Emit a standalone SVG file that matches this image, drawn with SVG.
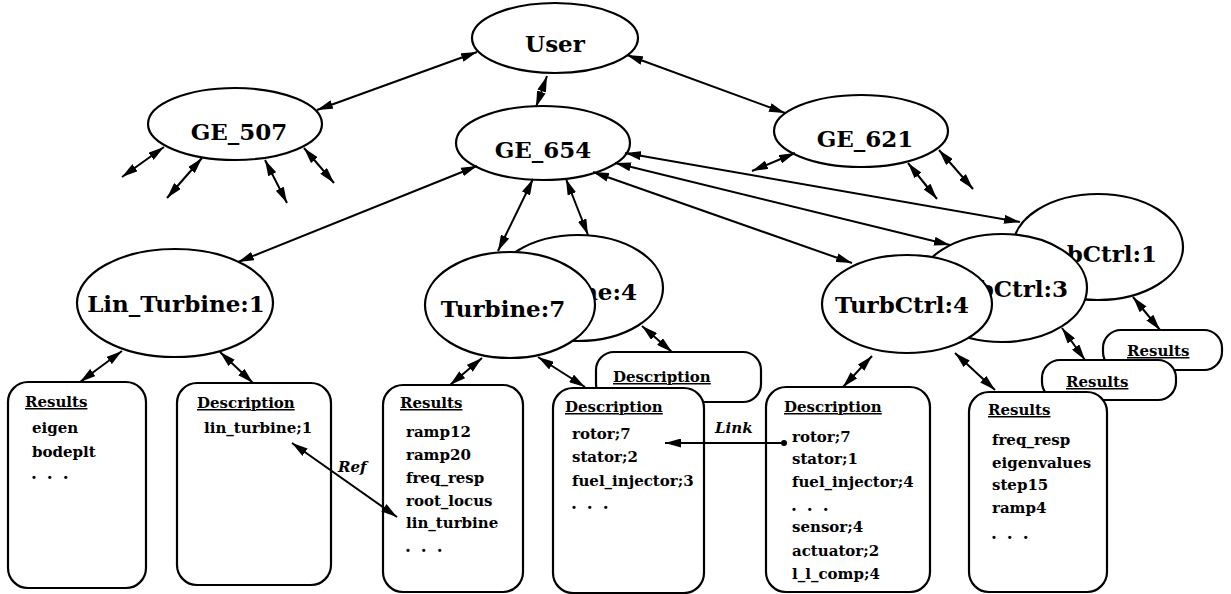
<svg xmlns="http://www.w3.org/2000/svg" width="1231" height="594" viewBox="0 0 1231 594">
<defs>
<marker id="ah" viewBox="0 0 16 9" refX="16" refY="4.5" markerWidth="16" markerHeight="9" markerUnits="userSpaceOnUse" orient="auto-start-reverse"><path d="M0,0 L16,4.5 L0,9 z" fill="#000"/></marker>
<style>
.n ellipse{fill:#fff;stroke:#000;stroke-width:2.2}
.b rect{fill:#fff;stroke:#000;stroke-width:2.2}
.big{font-family:"DejaVu Serif","Liberation Serif",serif;font-weight:bold;font-size:23px;fill:#000}
.h{font-family:"DejaVu Serif","Liberation Serif",serif;font-weight:bold;font-size:15px;text-decoration:underline;fill:#000}
.t{font-family:"DejaVu Serif","Liberation Serif",serif;font-weight:bold;font-size:15px;fill:#000}
.d{font-family:"DejaVu Serif","Liberation Serif",serif;font-weight:bold;font-size:17px;letter-spacing:2px;fill:#000}
.it{font-family:"DejaVu Serif","Liberation Serif",serif;font-weight:bold;font-style:italic;font-size:15px;fill:#000}
.c line{stroke:#000;stroke-width:2;marker-start:url(#ah);marker-end:url(#ah)}
</style>
</defs>
<rect width="1231" height="594" fill="#fff"/>

<g id="user" class="n"><ellipse cx="555" cy="38" rx="83" ry="35"/><text class="big" x="555" y="52" text-anchor="middle">User</text></g>
<g id="ge507" class="n"><ellipse cx="235" cy="124" rx="87" ry="36"/><text class="big" x="239" y="140" text-anchor="middle">GE_507</text></g>
<g id="ge654" class="n"><ellipse cx="543" cy="143" rx="87" ry="37"/><text class="big" x="543" y="158" text-anchor="middle">GE_654</text></g>
<g id="ge621" class="n"><ellipse cx="861" cy="131" rx="87" ry="36"/><text class="big" x="865" y="147" text-anchor="middle">GE_621</text></g>

<g id="linturbine1" class="n"><ellipse cx="175" cy="303" rx="98" ry="54"/><text class="big" x="176" y="312" text-anchor="middle">Lin_Turbine:1</text></g>
<g id="lin-results" class="b"><rect x="8" y="382" width="138" height="206" rx="20"/><text class="h" x="25" y="407">Results</text><text class="t" x="32" y="433">eigen</text><text class="t" x="32" y="457">bodeplt</text><text class="d" x="31" y="479">. . .</text></g>
<g id="lin-desc" class="b"><rect x="177" y="383" width="154" height="202" rx="20"/><text class="h" x="197" y="408">Description</text><text class="t" x="204" y="433">lin_turbine;1</text></g>

<g id="turbine4" class="n"><ellipse cx="578" cy="288" rx="85" ry="53"/><text class="big" x="637" y="300" text-anchor="end">ne:4</text></g>
<g id="turbine4-desc" class="b"><rect x="596" y="352" width="165" height="50" rx="18"/><text class="h" x="613" y="382">Description</text></g>
<g id="turbine7" class="n"><ellipse cx="510" cy="305" rx="85" ry="53"/><text class="big" x="503" y="317" text-anchor="middle">Turbine:7</text></g>
<g id="turbine7-results" class="b"><rect x="383" y="385" width="140" height="207" rx="20"/><text class="h" x="400" y="408">Results</text><text class="t" x="406" y="437">ramp12</text><text class="t" x="406" y="460">ramp20</text><text class="t" x="406" y="483">freq_resp</text><text class="t" x="406" y="506">root_locus</text><text class="t" x="406" y="528">lin_turbine</text><text class="d" x="405" y="552">. . .</text></g>
<g id="turbine7-desc" class="b"><rect x="553" y="388" width="151" height="205" rx="20"/><text class="h" x="565" y="412">Description</text><text class="t" x="572" y="439">rotor;7</text><text class="t" x="572" y="462">stator;2</text><text class="t" x="572" y="486">fuel_injector;3</text><text class="d" x="571" y="509">. . .</text></g>

<g id="turbctrl1" class="n"><ellipse cx="1098" cy="247" rx="85" ry="53"/><text class="big" x="1157" y="262" text-anchor="end">bCtrl:1</text></g>
<g id="turbctrl3" class="n"><ellipse cx="1002" cy="288" rx="85" ry="54"/><text class="big" x="1068" y="297" text-anchor="end">bCtrl:3</text></g>
<g id="turbctrl4" class="n"><ellipse cx="907" cy="304" rx="85" ry="49"/><text class="big" x="902" y="313" text-anchor="middle">TurbCtrl:4</text></g>
<g id="turbctrl1-results" class="b"><rect x="1103" y="330" width="119" height="40" rx="18"/><text class="h" x="1127" y="356">Results</text></g>
<g id="turbctrl3-results" class="b"><rect x="1042" y="360" width="134" height="40" rx="18"/><text class="h" x="1066" y="387">Results</text></g>
<g id="turbctrl4-desc" class="b"><rect x="766" y="387" width="164" height="205" rx="20"/><text class="h" x="784" y="412">Description</text><text class="t" x="792" y="442">rotor;7</text><text class="t" x="792" y="464">stator;1</text><text class="t" x="792" y="487">fuel_injector;4</text><text class="d" x="791" y="511">. . .</text><text class="t" x="792" y="532">sensor;4</text><text class="t" x="792" y="556">actuator;2</text><text class="t" x="792" y="579">l_l_comp;4</text></g>
<g id="turbctrl4-results" class="b"><rect x="969" y="392" width="138" height="200" rx="20"/><text class="h" x="988" y="415">Results</text><text class="t" x="992" y="445">freq_resp</text><text class="t" x="992" y="468">eigenvalues</text><text class="t" x="992" y="490">step15</text><text class="t" x="992" y="513">ramp4</text><text class="d" x="991" y="539">. . .</text></g>

<g id="connectors" class="c">
<line x1="317" y1="110" x2="477" y2="52"/>
<line x1="547" y1="76" x2="536" y2="107"/>
<line x1="627" y1="55" x2="785" y2="113"/>
<line x1="477" y1="166" x2="238" y2="262"/>
<line x1="533" y1="179" x2="498" y2="251"/>
<line x1="566" y1="179" x2="588" y2="235"/>
<line x1="593" y1="172" x2="852" y2="263"/>
<line x1="615" y1="163" x2="950" y2="245"/>
<line x1="625" y1="153" x2="1020" y2="222"/>
<line x1="164" y1="147" x2="122" y2="177"/>
<line x1="202" y1="158" x2="167" y2="198"/>
<line x1="265" y1="160" x2="287" y2="203"/>
<line x1="304" y1="148" x2="334" y2="183"/>
<line x1="795" y1="153" x2="752" y2="171"/>
<line x1="908" y1="163" x2="937" y2="199"/>
<line x1="939" y1="150" x2="973" y2="189"/>
<line x1="122" y1="351" x2="80" y2="382"/>
<line x1="220" y1="352" x2="253" y2="383"/>
<line x1="482" y1="358" x2="450" y2="385"/>
<line x1="538" y1="357" x2="585" y2="387"/>
<line x1="642" y1="326" x2="672" y2="352"/>
<line x1="872" y1="356" x2="843" y2="387"/>
<line x1="955" y1="353" x2="995" y2="390"/>
<line x1="1062" y1="328" x2="1085" y2="360"/>
<line x1="1133" y1="297" x2="1160" y2="330"/>
<line x1="292" y1="443" x2="397" y2="517"/>
<line x1="784" y1="443" x2="665" y2="443" style="marker-start:none"/>
<circle cx="784" cy="443" r="3" fill="#000"/>
<text class="it" x="338" y="472">Ref</text>
<text class="it" x="715" y="433">Link</text>
</g>
</svg>
